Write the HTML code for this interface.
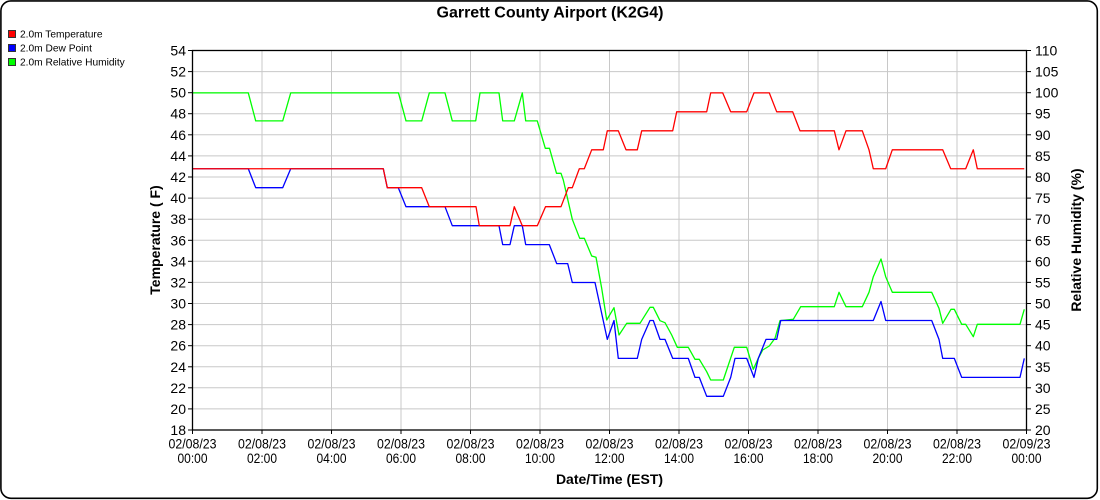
<!DOCTYPE html>
<html>
<head>
<meta charset="utf-8">
<style>
  html, body { margin:0; padding:0; background:#fff; }
  svg { display:block; }
  text { font-family: "Liberation Sans", Arial, sans-serif; fill:#000; }
</style>
</head>
<body>
<svg width="1100" height="500" viewBox="0 0 1100 500" xmlns="http://www.w3.org/2000/svg">
  <rect x="0" y="0" width="1100" height="500" fill="#fff"/>
  <rect x="0.9" y="0.9" width="1096.4" height="497.4" rx="10" ry="10" fill="none" stroke="#000" stroke-width="1.6"/>

  <!-- Title -->
  <text x="550" y="17.5" font-size="16" font-weight="bold" text-anchor="middle">Garrett County Airport (K2G4)</text>

  <!-- Legend -->
  <rect x="8.5" y="30.5" width="7" height="7" fill="#ff0000" stroke="#333" stroke-width="1"/>
  <text x="20" y="37.5" font-size="10.2">2.0m Temperature</text>
  <rect x="8.5" y="44.5" width="7" height="7" fill="#0000ff" stroke="#333" stroke-width="1"/>
  <text x="20" y="51.5" font-size="10.2">2.0m Dew Point</text>
  <rect x="8.5" y="58.5" width="7" height="7" fill="#00ff00" stroke="#333" stroke-width="1"/>
  <text x="20" y="65.5" font-size="10.2">2.0m Relative Humidity</text>

  <!-- Grid -->
  <g stroke="#c8c8c8" stroke-width="1">
    <line x1="262" y1="50.5" x2="262" y2="430"/>
    <line x1="331.5" y1="50.5" x2="331.5" y2="430"/>
    <line x1="401" y1="50.5" x2="401" y2="430"/>
    <line x1="470.5" y1="50.5" x2="470.5" y2="430"/>
    <line x1="540" y1="50.5" x2="540" y2="430"/>
    <line x1="609.5" y1="50.5" x2="609.5" y2="430"/>
    <line x1="679" y1="50.5" x2="679" y2="430"/>
    <line x1="748.5" y1="50.5" x2="748.5" y2="430"/>
    <line x1="818" y1="50.5" x2="818" y2="430"/>
    <line x1="887.5" y1="50.5" x2="887.5" y2="430"/>
    <line x1="957" y1="50.5" x2="957" y2="430"/>

    <line x1="192.5" y1="71.6" x2="1026.5" y2="71.6"/>
    <line x1="192.5" y1="92.7" x2="1026.5" y2="92.7"/>
    <line x1="192.5" y1="113.7" x2="1026.5" y2="113.7"/>
    <line x1="192.5" y1="134.8" x2="1026.5" y2="134.8"/>
    <line x1="192.5" y1="155.9" x2="1026.5" y2="155.9"/>
    <line x1="192.5" y1="177.0" x2="1026.5" y2="177.0"/>
    <line x1="192.5" y1="198.1" x2="1026.5" y2="198.1"/>
    <line x1="192.5" y1="219.2" x2="1026.5" y2="219.2"/>
    <line x1="192.5" y1="240.3" x2="1026.5" y2="240.3"/>
    <line x1="192.5" y1="261.3" x2="1026.5" y2="261.3"/>
    <line x1="192.5" y1="282.4" x2="1026.5" y2="282.4"/>
    <line x1="192.5" y1="303.5" x2="1026.5" y2="303.5"/>
    <line x1="192.5" y1="324.6" x2="1026.5" y2="324.6"/>
    <line x1="192.5" y1="345.7" x2="1026.5" y2="345.7"/>
    <line x1="192.5" y1="366.8" x2="1026.5" y2="366.8"/>
    <line x1="192.5" y1="387.8" x2="1026.5" y2="387.8"/>
    <line x1="192.5" y1="408.9" x2="1026.5" y2="408.9"/>
  </g>

  <!-- Series -->
  <g fill="none" stroke-width="1.3" stroke-linejoin="round">
    <polyline stroke="#00ff00" points="192.5,92.9 248.3,92.9 255.7,120.9 282.7,120.9 290.7,92.9 398.5,92.9 406,120.9 421.7,120.9 429.3,92.9 445,92.9 452.3,120.9 475.7,120.9 480,92.9 499,92.9 502.7,120.9 514.3,120.9 522.3,92.9 525.7,120.9 537.3,120.9 545.3,148.3 549.5,148.3 556.5,173.3 561,173.3 563.3,180 572.3,219.3 579.7,238.3 584.3,238.3 591.7,256 596,257.3 601.7,288.3 606.7,320 614,307.7 619,335 626.7,323.3 640,323.3 650,307.3 653.3,307.3 660,320.7 665,322.7 671.7,335 677.3,347.3 688.3,347.3 695,359.3 699.3,359.3 706.7,371.7 710.7,380 723.3,380 734.3,347.3 746.7,347.3 753.3,369.3 758.3,358.3 762.7,350 769.3,346 775,338.3 780,320.7 793.3,319.3 800.7,306.7 834.3,306.7 839,292.3 846,306.7 862.3,306.7 869,292.3 873.3,276.7 881,259 885.7,276.7 892.3,292.3 931.7,292.3 939,308.3 942.7,323.3 951,309.3 954.3,309.3 961.7,324.3 965.7,324.3 973.3,336.7 977.3,324.3 1020,324.3 1024.3,309.3"/>
    <polyline stroke="#0000ff" points="192.5,168.75 248.3,168.75 255.7,187.7 282.7,187.7 290.7,168.75 383.3,168.75 387.3,187.7 398.3,187.7 406,206.7 445,206.7 452.3,225.7 499,225.7 502.7,244.6 510,244.6 514.3,225.7 522.3,225.7 525.7,244.6 549.3,244.6 556.7,263.6 567.7,263.6 572.3,282.5 595,282.5 607.3,339.4 614,320.5 618.3,358.4 637.3,358.4 641.7,339.4 650,320.5 653.3,320.5 660,339.4 665,339.4 672.7,358.4 688.3,358.4 695,377.4 699.3,377.4 706.7,396.3 723.3,396.3 730.7,377.4 735,358.4 746.7,358.4 754,377.4 758.3,358.4 766,339.4 776.7,339.4 780.7,320.5 873.3,320.5 881,301.5 885.7,320.5 931.7,320.5 939,339.4 942.7,358.4 954.3,358.4 961.7,377.4 1020,377.4 1024.3,358.4"/>
    <polyline stroke="#ff0000" points="192.5,168.75 383.3,168.75 387.3,187.7 421.7,187.7 429.3,206.7 476,206.7 479.3,225.7 510,225.7 514.3,206.7 522.3,225.7 537.3,225.7 545.5,206.7 561,206.7 568.3,187.7 572.3,187.7 579.3,168.75 584.3,168.75 591.7,149.8 603.3,149.8 607.3,130.8 618.3,130.8 626,149.8 637.3,149.8 641.7,130.8 672.7,130.8 676.7,111.8 706.7,111.8 710.7,92.9 722.7,92.9 730.7,111.8 746.7,111.8 754,92.9 769.3,92.9 776.7,111.8 792.7,111.8 800,130.8 834.3,130.8 839,149.8 846,130.8 862.3,130.8 869,149.8 873.3,168.75 885.7,168.75 892.3,149.8 942.7,149.8 950.7,168.75 965.7,168.75 973.3,149.8 977.3,168.75 1024.3,168.75"/>
  </g>

  <!-- Axes frame -->
  <g stroke="#000" stroke-width="1.3" fill="none">
    <rect x="192.5" y="50.5" width="834" height="379.5"/>
  </g>

  <!-- Ticks -->
  <g stroke="#000" stroke-width="1">
    <!-- left -->
    <line x1="188" y1="50.5" x2="192.5" y2="50.5"/><line x1="188" y1="71.6" x2="192.5" y2="71.6"/>
    <line x1="188" y1="92.7" x2="192.5" y2="92.7"/><line x1="188" y1="113.7" x2="192.5" y2="113.7"/>
    <line x1="188" y1="134.8" x2="192.5" y2="134.8"/><line x1="188" y1="155.9" x2="192.5" y2="155.9"/>
    <line x1="188" y1="177.0" x2="192.5" y2="177.0"/><line x1="188" y1="198.1" x2="192.5" y2="198.1"/>
    <line x1="188" y1="219.2" x2="192.5" y2="219.2"/><line x1="188" y1="240.3" x2="192.5" y2="240.3"/>
    <line x1="188" y1="261.3" x2="192.5" y2="261.3"/><line x1="188" y1="282.4" x2="192.5" y2="282.4"/>
    <line x1="188" y1="303.5" x2="192.5" y2="303.5"/><line x1="188" y1="324.6" x2="192.5" y2="324.6"/>
    <line x1="188" y1="345.7" x2="192.5" y2="345.7"/><line x1="188" y1="366.8" x2="192.5" y2="366.8"/>
    <line x1="188" y1="387.8" x2="192.5" y2="387.8"/><line x1="188" y1="408.9" x2="192.5" y2="408.9"/>
    <line x1="188" y1="430" x2="192.5" y2="430"/>
    <!-- right -->
    <line x1="1026.5" y1="50.5" x2="1031" y2="50.5"/><line x1="1026.5" y1="71.6" x2="1031" y2="71.6"/>
    <line x1="1026.5" y1="92.7" x2="1031" y2="92.7"/><line x1="1026.5" y1="113.7" x2="1031" y2="113.7"/>
    <line x1="1026.5" y1="134.8" x2="1031" y2="134.8"/><line x1="1026.5" y1="155.9" x2="1031" y2="155.9"/>
    <line x1="1026.5" y1="177.0" x2="1031" y2="177.0"/><line x1="1026.5" y1="198.1" x2="1031" y2="198.1"/>
    <line x1="1026.5" y1="219.2" x2="1031" y2="219.2"/><line x1="1026.5" y1="240.3" x2="1031" y2="240.3"/>
    <line x1="1026.5" y1="261.3" x2="1031" y2="261.3"/><line x1="1026.5" y1="282.4" x2="1031" y2="282.4"/>
    <line x1="1026.5" y1="303.5" x2="1031" y2="303.5"/><line x1="1026.5" y1="324.6" x2="1031" y2="324.6"/>
    <line x1="1026.5" y1="345.7" x2="1031" y2="345.7"/><line x1="1026.5" y1="366.8" x2="1031" y2="366.8"/>
    <line x1="1026.5" y1="387.8" x2="1031" y2="387.8"/><line x1="1026.5" y1="408.9" x2="1031" y2="408.9"/>
    <line x1="1026.5" y1="430" x2="1031" y2="430"/>
    <!-- bottom -->
    <line x1="192.5" y1="430" x2="192.5" y2="434"/><line x1="262" y1="430" x2="262" y2="434"/>
    <line x1="331.5" y1="430" x2="331.5" y2="434"/><line x1="401" y1="430" x2="401" y2="434"/>
    <line x1="470.5" y1="430" x2="470.5" y2="434"/><line x1="540" y1="430" x2="540" y2="434"/>
    <line x1="609.5" y1="430" x2="609.5" y2="434"/><line x1="679" y1="430" x2="679" y2="434"/>
    <line x1="748.5" y1="430" x2="748.5" y2="434"/><line x1="818" y1="430" x2="818" y2="434"/>
    <line x1="887.5" y1="430" x2="887.5" y2="434"/><line x1="957" y1="430" x2="957" y2="434"/>
    <line x1="1026.5" y1="430" x2="1026.5" y2="434"/>
  </g>

  <!-- Left tick labels -->
  <g font-size="14" text-anchor="end">
    <text x="186" y="55.5">54</text><text x="186" y="76.6">52</text>
    <text x="186" y="97.7">50</text><text x="186" y="118.7">48</text>
    <text x="186" y="139.8">46</text><text x="186" y="160.9">44</text>
    <text x="186" y="182">42</text><text x="186" y="203.1">40</text>
    <text x="186" y="224.2">38</text><text x="186" y="245.3">36</text>
    <text x="186" y="266.3">34</text><text x="186" y="287.4">32</text>
    <text x="186" y="308.5">30</text><text x="186" y="329.6">28</text>
    <text x="186" y="350.7">26</text><text x="186" y="371.8">24</text>
    <text x="186" y="392.8">22</text><text x="186" y="413.9">20</text>
    <text x="186" y="435">18</text>
  </g>

  <!-- Right tick labels -->
  <g font-size="14" text-anchor="start">
    <text x="1035" y="55.5">110</text><text x="1035" y="76.6">105</text>
    <text x="1035" y="97.7">100</text><text x="1035" y="118.7">95</text>
    <text x="1035" y="139.8">90</text><text x="1035" y="160.9">85</text>
    <text x="1035" y="182">80</text><text x="1035" y="203.1">75</text>
    <text x="1035" y="224.2">70</text><text x="1035" y="245.3">65</text>
    <text x="1035" y="266.3">60</text><text x="1035" y="287.4">55</text>
    <text x="1035" y="308.5">50</text><text x="1035" y="329.6">45</text>
    <text x="1035" y="350.7">40</text><text x="1035" y="371.8">35</text>
    <text x="1035" y="392.8">30</text><text x="1035" y="413.9">25</text>
    <text x="1035" y="435">20</text>
  </g>

  <!-- Bottom tick labels -->
  <g font-size="14" text-anchor="middle" lengthAdjust="spacingAndGlyphs">
    <text x="192.5" y="448.3" textLength="48" lengthAdjust="spacingAndGlyphs">02/08/23</text>
    <text x="192.5" y="463" textLength="30" lengthAdjust="spacingAndGlyphs">00:00</text>
    <text x="262" y="448.3" textLength="48" lengthAdjust="spacingAndGlyphs">02/08/23</text>
    <text x="262" y="463" textLength="30" lengthAdjust="spacingAndGlyphs">02:00</text>
    <text x="331.5" y="448.3" textLength="48" lengthAdjust="spacingAndGlyphs">02/08/23</text>
    <text x="331.5" y="463" textLength="30" lengthAdjust="spacingAndGlyphs">04:00</text>
    <text x="401" y="448.3" textLength="48" lengthAdjust="spacingAndGlyphs">02/08/23</text>
    <text x="401" y="463" textLength="30" lengthAdjust="spacingAndGlyphs">06:00</text>
    <text x="470.5" y="448.3" textLength="48" lengthAdjust="spacingAndGlyphs">02/08/23</text>
    <text x="470.5" y="463" textLength="30" lengthAdjust="spacingAndGlyphs">08:00</text>
    <text x="540" y="448.3" textLength="48" lengthAdjust="spacingAndGlyphs">02/08/23</text>
    <text x="540" y="463" textLength="30" lengthAdjust="spacingAndGlyphs">10:00</text>
    <text x="609.5" y="448.3" textLength="48" lengthAdjust="spacingAndGlyphs">02/08/23</text>
    <text x="609.5" y="463" textLength="30" lengthAdjust="spacingAndGlyphs">12:00</text>
    <text x="679" y="448.3" textLength="48" lengthAdjust="spacingAndGlyphs">02/08/23</text>
    <text x="679" y="463" textLength="30" lengthAdjust="spacingAndGlyphs">14:00</text>
    <text x="748.5" y="448.3" textLength="48" lengthAdjust="spacingAndGlyphs">02/08/23</text>
    <text x="748.5" y="463" textLength="30" lengthAdjust="spacingAndGlyphs">16:00</text>
    <text x="818" y="448.3" textLength="48" lengthAdjust="spacingAndGlyphs">02/08/23</text>
    <text x="818" y="463" textLength="30" lengthAdjust="spacingAndGlyphs">18:00</text>
    <text x="887.5" y="448.3" textLength="48" lengthAdjust="spacingAndGlyphs">02/08/23</text>
    <text x="887.5" y="463" textLength="30" lengthAdjust="spacingAndGlyphs">20:00</text>
    <text x="957" y="448.3" textLength="48" lengthAdjust="spacingAndGlyphs">02/08/23</text>
    <text x="957" y="463" textLength="30" lengthAdjust="spacingAndGlyphs">22:00</text>
    <text x="1026.5" y="448.3" textLength="48" lengthAdjust="spacingAndGlyphs">02/09/23</text>
    <text x="1026.5" y="463" textLength="30" lengthAdjust="spacingAndGlyphs">00:00</text>
  </g>

  <!-- Axis titles -->
  <text x="609.5" y="484" font-size="14" font-weight="bold" text-anchor="middle">Date/Time (EST)</text>
  <text transform="translate(160,240) rotate(-90)" font-size="14" font-weight="bold" text-anchor="middle">Temperature ( F)</text>
  <text transform="translate(1081,240) rotate(-90)" font-size="14" font-weight="bold" text-anchor="middle">Relative Humidity (%)</text>
</svg>
</body>
</html>
